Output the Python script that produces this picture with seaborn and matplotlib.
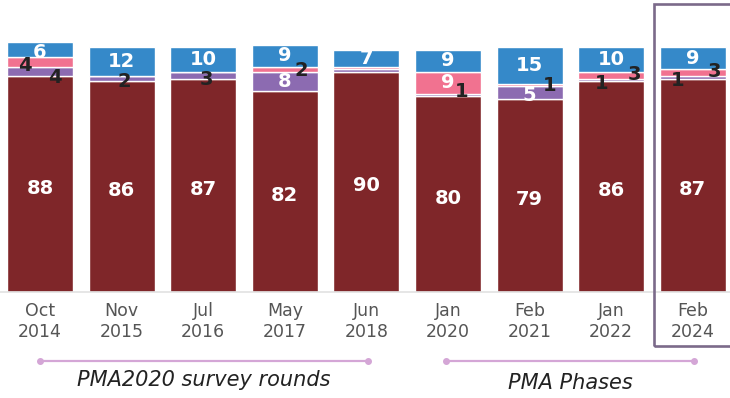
import matplotlib
matplotlib.use("Agg")
import matplotlib.pyplot as plt
from matplotlib.patches import Rectangle
from matplotlib.lines import Line2D
import numpy as np
import pandas as pd
import seaborn as sns

# Survey rounds
months = ["Oct", "Nov", "Jul", "May", "Jun", "Jan", "Feb", "Jan", "Feb"]
years = ["2014", "2015", "2016", "2017", "2018", "2020", "2021", "2022", "2024"]

# Stacked shares (%), bottom to top
dark_red = [88, 86, 87, 82, 90, 80, 79, 86, 87]
purple = [4, 2, 3, 8, 1, 1, 5, 1, 1]
pink = [4, 0, 0, 2, 1, 9, 1, 3, 3]
blue = [6, 12, 10, 9, 7, 9, 15, 10, 9]

sns.set_theme(style="white")
plt.rcParams["font.family"] = ["DejaVu Sans"]

rounds = [f"{m}\n{y}" for m, y in zip(months, years)]
series = [
    ("dark_red", dark_red, "#7f2629"),
    ("purple", purple, "#8c6bb1"),
    ("pink", pink, "#f17290"),
    ("blue", blue, "#3589c9"),
]

fig = plt.figure(figsize=(7.3, 3.98), dpi=100)
ax = fig.add_axes([0.0, 0.2663, 1.0, 0.677])

bottom = np.zeros(len(rounds))
segments = {}
for name, vals, color in series:
    df = pd.DataFrame({"round": rounds, "share": vals})
    sns.barplot(data=df, x="round", y="share", order=rounds, color=color,
                width=0.81, bottom=bottom.copy(), edgecolor="white",
                linewidth=1.0, errorbar=None, saturation=1, ax=ax)
    segments[name] = (bottom.copy(), np.array(vals, dtype=float))
    bottom = bottom + np.array(vals, dtype=float)

# Label placement for thin segments: (dx px, dy px; negative dy = lower),
# None hides the label
thin_labels = {
    (0, "pink"): (-15, -4), (0, "purple"): (15, -6),
    (1, "purple"): (3, -3),
    (2, "purple"): (3, -4),
    (3, "pink"): (17, -1),
    (4, "pink"): None, (4, "purple"): None,
    (5, "purple"): (14, 3),
    (6, "pink"): (20, 0),
    (7, "purple"): (-10, -3), (7, "pink"): (23, 1),
    (8, "purple"): (-15, -2.5), (8, "pink"): (22, 1),
}
white_shift = {(0, "blue"): -3, (6, "purple"): -3}
label_kw = dict(textcoords="offset points", ha="center", va="center",
                fontsize=14, fontweight="bold")

for name, _, _ in series:
    base, vals = segments[name]
    for i, (b, v) in enumerate(zip(base, vals)):
        if v <= 0:
            continue
        yc = b + v / 2
        key = (i, name)
        if v >= 5:
            dy = white_shift.get(key, -4 if name == "dark_red" else 0)
            ax.annotate(f"{v:.0f}", (i, yc), xytext=(0, dy * 0.72),
                        color="white", **label_kw)
        else:
            pos = thin_labels.get(key, (0, 0))
            if pos is None:
                continue
            dx, dy = pos
            ax.annotate(f"{v:.0f}", (i, yc), xytext=(dx * 0.72, dy * 0.72),
                        color="#222222", **label_kw)

ax.set_xlim(-0.49, 8.456)
ax.set_ylim(0, 110)
ax.set_xlabel("")
ax.set_ylabel("")
ax.set_yticks([])
ax.set_xticks(range(len(rounds)))
ax.set_xticklabels(rounds, fontsize=12.5, color="#555555", linespacing=1.2)
ax.tick_params(axis="x", length=5, width=1, color="#dddddd", pad=2)
for side in ["top", "right", "left"]:
    ax.spines[side].set_visible(False)
ax.spines["bottom"].set_color("#e2e2e2")
ax.spines["bottom"].set_linewidth(1.2)

# Highlight frame around the latest round
W, H = 730, 398
fig.patches.append(Rectangle((653.5 / W, (H - 346) / H), 90 / W, 342 / H,
                             transform=fig.transFigure, fill=False,
                             edgecolor="#7b6a8a", linewidth=1.9, clip_on=False))

# Program brackets under the axis
bracket = "#d4a6d6"
for x0, x1, label, ty in [(40, 368, "PMA2020 survey rounds", 380),
                          (446, 694, "PMA Phases", 383)]:
    y = (H - 360.7) / H
    fig.add_artist(Line2D([x0 / W, x1 / W], [y, y], transform=fig.transFigure,
                          color=bracket, linewidth=1.6, marker="o",
                          markersize=4, markevery=[0, 1]))
    fig.text((x0 + x1) / 2 / W, (H - ty) / H, label, ha="center", va="center",
             fontsize=15, fontstyle="italic", color="#222222")

fig.savefig("out.png", dpi=100)
